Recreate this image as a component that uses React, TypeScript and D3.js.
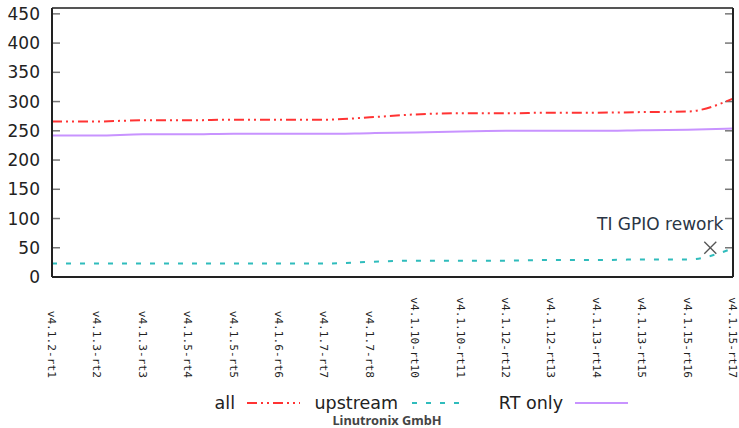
import React from "react";
import * as d3 from "d3";

const categories = [
  "v4.1.2-rt1", "v4.1.3-rt2", "v4.1.3-rt3", "v4.1.5-rt4", "v4.1.5-rt5", "v4.1.6-rt6",
  "v4.1.7-rt7", "v4.1.7-rt8", "v4.1.10-rt10", "v4.1.10-rt11", "v4.1.12-rt12", "v4.1.12-rt13",
  "v4.1.13-rt14", "v4.1.13-rt15", "v4.1.15-rt16", "v4.1.15-rt17",
];
const allValues = [266, 266, 268, 268, 269, 269, 269, 273, 278, 280, 280, 281, 281, 282, 283, 305];
const upstreamValues = [23, 23, 23, 23, 23, 23, 23, 26, 28, 28, 28, 29, 29, 30, 30, 49];
const rtOnlyValues = [242, 242, 244, 244, 245, 245, 245, 246, 247, 249, 250, 250, 250, 251, 252, 254];
const yTicks = [0, 50, 100, 150, 200, 250, 300, 350, 400, 450];
const annotation = { x: 14.5, y: 50, label: "TI GPIO rework" };
const footer = "Linutronix GmbH";

const W = 739, H = 428;
const M = { left: 52, right: 6, top: 8, bottom: 151 };

export default function App() {
  const x = d3.scaleLinear().domain([0, categories.length - 1]).range([M.left, W - M.right]);
  const y = d3.scaleLinear().domain([0, 460]).range([H - M.bottom, M.top]);
  const line = d3.line<number>().x((_, i) => x(i)).y((d) => y(d)).curve(d3.curveMonotoneX);

  const series = [
    { name: "all", values: allValues, color: "#ff3333", dash: "10,4,2,4,2,4", width: 2 },
    { name: "upstream", values: upstreamValues, color: "#2fbcbc", dash: "5,9", width: 2 },
    { name: "RT only", values: rtOnlyValues, color: "#c893ff", dash: "none", width: 2 },
  ];
  const legendPos = [
    { tx: 235, lx0: 247, lx1: 300 },
    { tx: 398, lx0: 412, lx1: 460 },
    { tx: 563, lx0: 575, lx1: 628 },
  ];
  const plotL = x(0), plotR = x(categories.length - 1), plotT = M.top, plotB = H - M.bottom;
  const ax = x(annotation.x), ay = y(annotation.y);

  return (
    <svg width={W} height={H} style={{ position: "absolute", left: 0, top: 0, fontFamily: "DejaVu Sans" }}>
      <rect width={W} height={H} fill="#fff" />
      {yTicks.map((t) => (
        <g key={t}>
          <line x1={plotL} x2={plotL + 8} y1={y(t)} y2={y(t)} stroke="#777" strokeWidth={1.5} />
          <line x1={plotR - 8} x2={plotR} y1={y(t)} y2={y(t)} stroke="#777" strokeWidth={1.5} />
          <text x={40} y={y(t)} dy="0.36em" textAnchor="end" fontSize={17} fill="#222">{t}</text>
        </g>
      ))}
      {series.map((s) => (
        <path key={s.name} d={line(s.values) || ""} fill="none" stroke={s.color} strokeWidth={s.width}
          strokeDasharray={s.dash} />
      ))}
      <line x1={plotL} x2={plotR} y1={plotT} y2={plotT} stroke="#555" strokeWidth={2} />
      <line x1={plotR} x2={plotR} y1={plotT} y2={plotB} stroke="#222" strokeWidth={2} />
      <line x1={plotL} x2={plotR} y1={plotB} y2={plotB} stroke="#222" strokeWidth={2} />
      <line x1={plotL} x2={plotL} y1={plotT} y2={plotB} stroke="#222" strokeWidth={2} />
      {categories.map((c, i) => (
        <text key={c} transform={`translate(${x(i)},378) rotate(90)`} textAnchor="end" dy="0.35em"
          fontSize={11.2} fontFamily="DejaVu Sans Mono" fill="#222">{c}</text>
      ))}
      <g stroke="#555" strokeWidth={1.3}>
        <line x1={ax - 6} x2={ax + 6} y1={ay - 6} y2={ay + 6} />
        <line x1={ax - 6} x2={ax + 6} y1={ay + 6} y2={ay - 6} />
      </g>
      <text x={ax + 13} y={ay - 18} textAnchor="end" fontSize={17} fill="#2a3545">{annotation.label}</text>
      {series.map((s, i) => (
        <g key={s.name}>
          <text x={legendPos[i].tx} y={403} dy="0.36em" textAnchor="end" fontSize={17.5} fill="#222">{s.name}</text>
          <line x1={legendPos[i].lx0} x2={legendPos[i].lx1} y1={403} y2={403} stroke={s.color}
            strokeWidth={2} strokeDasharray={s.dash} />
        </g>
      ))}
      <text x={387} y={421} dy="0.35em" textAnchor="middle" fontSize={12.8} fontWeight="bold"
        fontFamily="Noto Sans" fill="#444">{footer}</text>
    </svg>
  );
}
